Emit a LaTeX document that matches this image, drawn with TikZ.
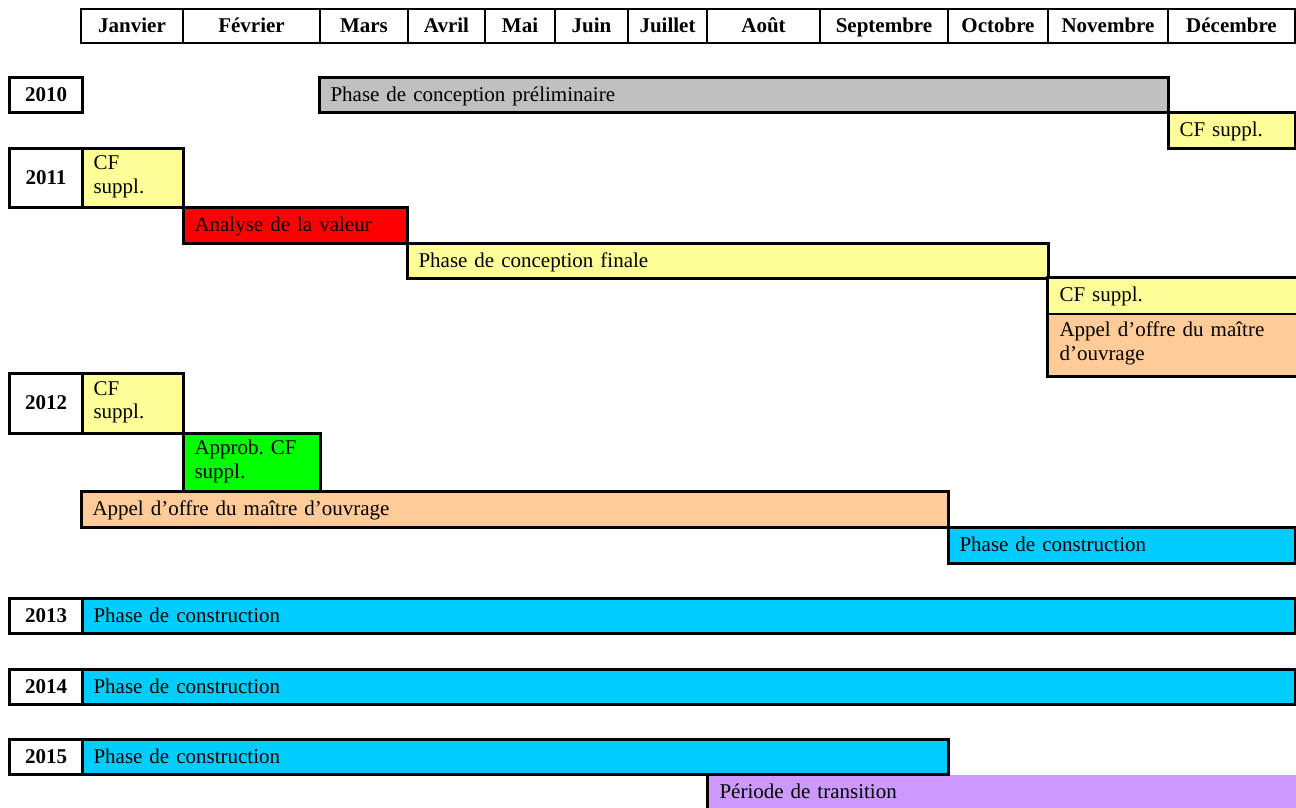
\documentclass[tikz,border=0pt]{standalone}
\usepackage{fontspec}
\setmainfont{Liberation Serif}
\frenchspacing
\definecolor{grisb}{HTML}{C0C0C0}
\definecolor{jaune}{HTML}{FFFF99}
\definecolor{rouge}{HTML}{FF0000}
\definecolor{vert}{HTML}{00FF00}
\definecolor{peche}{HTML}{FFCC99}
\definecolor{cyanb}{HTML}{00CCFF}
\definecolor{violetb}{HTML}{CC99FF}
\newcommand\gfs{\fontsize{21}{23.5}\selectfont}
\newcommand\gbar[8]{%
  \pgfmathsetmacro\tw{#5-22}%
  \node[bar,#2,fill=#7,minimum width=#5pt,minimum height=#6pt,text width=\tw pt] (#1) at (#3,#4) {#8};}
\newcommand\gyear[4]{%
  \node[yr,minimum width=73pt,minimum height=#4pt] (#1) at (8,#3) {#2};}
\begin{document}
\begin{tikzpicture}[x=1pt,y=-1pt,
  one/.style={text height=16pt,text depth=4pt},
  two/.style={text depth=30pt},
  hdr/.style={draw,line width=2pt,anchor=north west,inner sep=0pt,font=\bfseries\gfs,align=center,one},
  yr/.style={draw,line width=3pt,anchor=north west,inner sep=0pt,font=\bfseries\gfs,fill=white,one},
  bar/.style={line width=3pt,anchor=north west,inner xsep=11pt,inner ysep=0pt,align=left,font=\gfs},
]
\useasboundingbox (0,0) rectangle (1296,807);
% header
\foreach \a/\b/\m [count=\i] in {80/182/Janvier,182/319/Février,319/407/Mars,407/484/Avril,484/554/Mai,554/627/Juin,627/706/Juillet,706/819/Août,819/947/Septembre,947/1047/Octobre,1047/1167/Novembre,1167/1294/Décembre}{
  \pgfmathsetmacro\w{\b-\a}
  \node[hdr,minimum width=\w pt,minimum height=34pt] (h\i) at (\a,8) {\m};
}
% 2010
\gyear{y10}{2010}{76}{35}
\gbar{pre}{draw,one}{318}{76}{849}{35}{grisb}{Phase de conception préliminaire}
\gbar{cfa}{draw,one}{1167}{111}{127}{36}{jaune}{CF suppl.}
% 2011
\gyear{y11}{2011}{147}{59}
\gbar{cfb}{draw,two}{81}{147}{101}{59}{jaune}{CF\\suppl.}
\gbar{ana}{draw,one}{182}{206}{224}{36}{rouge}{Analyse de la valeur}
\gbar{fin}{draw,one}{406}{242}{641}{35}{jaune}{Phase de conception finale}
\gbar{cfc}{one}{1047}{277}{247}{34}{jaune}{CF suppl.}
\gbar{aoa}{}{1047}{311}{247}{62}{peche}{Appel d’offre du maître\\d’ouvrage}
\draw[line width=3pt] (cfc.north west) rectangle (aoa.south east);
\draw[line width=1.5pt] (cfc.south west) -- (cfc.south east);
% 2012
\gyear{y12}{2012}{372}{60}
\gbar{cfd}{draw,two}{81}{372}{101}{60}{jaune}{CF\\suppl.}
\gbar{app}{draw,two}{182}{432}{137}{58}{vert}{Approb. CF\\suppl.}
\gbar{aob}{draw,one}{80}{490}{867}{36}{peche}{Appel d’offre du maître d’ouvrage}
\gbar{pca}{draw,one}{947}{526}{347}{36}{cyanb}{Phase de construction}
% 2013
\gyear{y13}{2013}{597}{35}
\gbar{pcb}{draw,one}{81}{597}{1213}{35}{cyanb}{Phase de construction}
% 2014
\gyear{y14}{2014}{668}{35}
\gbar{pcc}{draw,one}{81}{668}{1213}{35}{cyanb}{Phase de construction}
% 2015
\gbar{tra}{one}{707}{773}{587}{36}{violetb}{Période de transition}
\draw[line width=3pt] (tra.north west) -- (tra.south west);
\gyear{y15}{2015}{738}{35}
\gbar{pcd}{draw,one}{81}{738}{866}{35}{cyanb}{Phase de construction}
\end{tikzpicture}
\end{document}
